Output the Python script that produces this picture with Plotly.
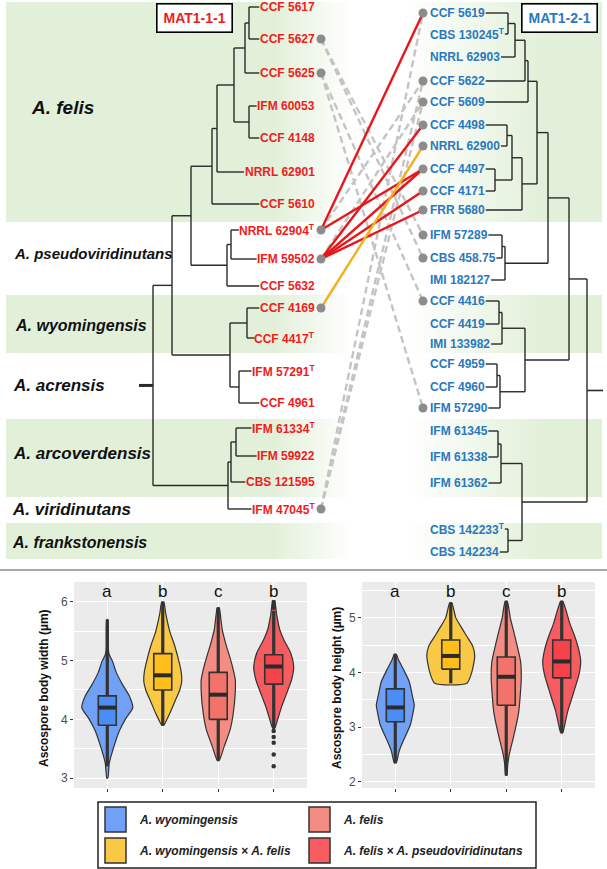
import re
import plotly.graph_objects as go

FIG_W, FIG_H = 607, 869

# ---------------- data: phylogenies ----------------
left_labels = ["CCF 5617", "CCF 5627", "CCF 5625", "IFM 60053", "CCF 4148", "NRRL 62901", "CCF 5610",
               "NRRL 62904<sup>T</sup>", "IFM 59502", "CCF 5632", "CCF 4169", "CCF 4417<sup>T</sup>",
               "IFM 57291<sup>T</sup>", "CCF 4961", "IFM 61334<sup>T</sup>", "IFM 59922", "CBS 121595",
               "IFM 47045<sup>T</sup>"]
left_rows = [7, 39, 73, 106, 138, 172, 204, 230, 259, 286, 308, 338, 371, 403, 428, 456, 482, 509]

right_labels = ["CCF 5619", "CBS 130245<sup>T</sup>", "NRRL 62903", "CCF 5622", "CCF 5609", "CCF 4498",
                "NRRL 62900", "CCF 4497", "CCF 4171", "FRR 5680", "IFM 57289", "CBS 458.75", "IMI 182127",
                "CCF 4416", "CCF 4419", "IMI 133982", "CCF 4959", "CCF 4960", "IFM 57290", "IFM 61345",
                "IFM 61338", "IFM 61362", "CBS 142233<sup>T</sup>", "CBS 142234"]
right_rows = [13, 34, 57, 81, 102, 125, 146, 169, 191, 210, 235, 258, 280, 301, 324, 344, 364, 387, 408,
              431, 457, 483, 529, 552]

# nested (node depth, children); ints are tip indices
left_tree = (153, [(172, [(191, [(212, [(217, [(234, [(245, [(249, [0, 1]), 2]), (249, [3, 4])]), 5]), 6]),
                                 (227, [(231, [7, 8]), 9])]),
                          (230, [(247, [10, 11]), (239, [12, 13])])]),
                   (228, [(231, [(236, [14, 15]), 16]), 17])])
left_root_stub = 139

right_tree = (587, [(569, [(548, [(537, [(528, [(525, [(515, [(508, [0, 1]), 2]), 3]), 4]),
                                         (522, [(512, [(507, [5, 6]), (495, [7, 8])]), 9])]),
                                  (505, [(502, [10, 11]), 12])]),
                           (525, [(502, [(499, [13, 14]), 15]), (500, [(497, [16, 17]), 18])])]),
                    (522, [(501, [(498, [19, 20]), 21]), (508, [22, 23])])])
right_root_stub = 603

clade_names = ["A. felis", "A. pseudoviridinutans", "A. wyomingensis", "A. acrensis",
               "A. arcoverdensis", "A. viridinutans", "A. frankstonensis"]
clade_rows = [107, 253, 325, 385, 453, 509, 542]
clade_shaded = [True, False, True, False, True, False, True]
band_top = [2, 222, 295, 353, 419, 497, 523]
band_bottom = [222, 295, 353, 419, 497, 523, 559]

# crosses (left tip index, right tip index)
crosses_gray = [(1, 10), (1, 11), (2, 13), (2, 18), (7, 3), (8, 4), (17, 0), (17, 3), (17, 4)]
crosses_red = [(7, 0), (7, 7), (8, 5), (8, 7), (8, 8), (8, 9)]
crosses_yellow = [(10, 6)]

# ---------------- data: violins ----------------
groups = ["A. wyomingensis", "A. wyomingensis × A. felis", "A. felis", "A. felis × A. pseudoviridinutans"]
width_letters = ["a", "b", "c", "b"]
height_letters = ["a", "b", "c", "b"]

width_levels = [
    [3.0, 3.25, 3.5, 3.8, 4.0, 4.2, 4.4, 4.6, 4.8, 5.0, 5.1, 5.2, 5.7],
    [3.9, 4.1, 4.3, 4.5, 4.65, 4.8, 5.0, 5.25, 5.5, 5.8, 6.0],
    [3.3, 3.54, 3.83, 4.1, 4.45, 4.68, 4.98, 5.26, 5.53, 5.8, 5.9],
    [3.85, 4.0, 4.22, 4.4, 4.68, 4.9, 5.13, 5.36, 5.53, 5.78, 6.0],
]
width_density = [
    [0.5, 2, 6, 12, 18, 25.5, 22, 15, 9, 5, 2, 1, 0.5],
    [1, 7, 12, 17, 19, 18.5, 16, 12, 7, 3, 1],
    [1, 6, 12, 15, 17, 17, 13, 8, 4, 2, 1],
    [1, 4, 8, 12, 18, 20, 17, 10, 6, 3, 1],
]
width_q1 = [3.9, 4.5, 4.0, 4.6]
width_med = [4.2, 4.75, 4.42, 4.9]
width_q3 = [4.4, 5.12, 4.8, 5.1]
width_lo = [3.2, 3.9, 3.3, 3.85]
width_hi = [5.7, 6.0, 5.9, 5.85]
width_out_group = [3, 3, 3, 3, 3, 3, 3, 3]
width_out_vals = [3.2, 3.4, 3.6, 3.7, 3.8, 5.9, 5.95, 6.0]

height_levels = [
    [2.35, 2.57, 2.75, 3.04, 3.29, 3.4, 3.58, 3.83, 4.06, 4.24, 4.33],
    [3.8, 4.0, 4.3, 4.48, 4.66, 4.84, 5.0, 5.27],
    [2.12, 2.32, 2.5, 2.8, 3.04, 3.28, 3.58, 3.88, 4.18, 4.48, 4.78, 5.0, 5.3],
    [2.9, 3.04, 3.29, 3.52, 3.7, 3.94, 4.19, 4.42, 4.66, 4.9, 5.09, 5.3],
]
height_density = [
    [1, 4, 8, 15, 18, 19, 17, 14, 8, 3, 1],
    [16, 21, 24, 22, 16, 10, 5, 1],
    [0.5, 1.5, 3, 7, 10, 12.5, 14, 15, 14.5, 11, 7, 4, 1],
    [1, 3, 6, 10, 13, 17, 19, 17, 13, 8, 5, 1],
]
height_q1 = [3.1, 4.06, 3.4, 3.9]
height_med = [3.36, 4.3, 3.92, 4.2]
height_q3 = [3.7, 4.59, 4.28, 4.59]
height_lo = [2.35, 3.8, 2.12, 2.9]
height_hi = [4.33, 5.27, 5.3, 5.3]

# ---------------- styles ----------------
FONT = "Arial, Liberation Sans, sans-serif"
RED_TXT = "#F01C1C"
BLUE_TXT = "#2A78BE"
GREEN = "#E2F0D9"
TREE_C = "#2A2A2A"
violin_fill = ["#70A1F7", "#F9C845", "#F38C82", "#F75C61"]
box_fill = ["#4C8CF5", "#FFBF1A", "#F2736A", "#F4434B"]
OUT_C = "#333333"

CH = {' ': 0.278, '.': 0.278, '-': 0.333, 'C': 0.722, 'F': 0.611, 'I': 0.278, 'M': 0.833,
      'N': 0.722, 'R': 0.722, 'L': 0.611, 'B': 0.722, 'S': 0.667, 'T': 0.611}


def text_w(s, size=12):
    sup = ''.join(re.findall(r'<sup>(.*?)</sup>', s))
    base = re.sub(r'<sup>.*?</sup>', '', s)
    return sum(CH.get(c, 0.556) for c in base) * size + sum(CH.get(c, 0.556) for c in sup) * size * 0.7


def build(node, rows, tipx, xs, ys):
    if isinstance(node, int):
        return rows[node], tipx[node]
    depth, kids = node
    pos = [build(k, rows, tipx, xs, ys) for k in kids]
    for ky, kx in pos:
        xs += [depth, kx, None]
        ys += [ky, ky, None]
    yk = [p[0] for p in pos]
    xs += [depth, depth, None]
    ys += [min(yk), max(yk), None]
    return (min(yk) + max(yk)) / 2, depth


fig = go.Figure()

# clade bands with horizontal fade in the middle
for top, bot, shaded in zip(band_top, band_bottom, clade_shaded):
    if not shaded:
        continue
    fig.add_trace(go.Scatter(
        x=[6, 602, 602, 6, 6], y=[top, top, bot, bot, top], mode="lines",
        line=dict(width=0, color="rgba(0,0,0,0)"), fill="toself",
        fillgradient=dict(type="horizontal",
                          colorscale=[[0, GREEN], [0.45, GREEN], [0.58, "#FFFFFF"], [0.67, "#FFFFFF"],
                                      [0.9, GREEN], [1, GREEN]]),
        hoverinfo="skip", xaxis="x", yaxis="y"))

# trees
L_RIGHT = 317
R_LEFT = 428
left_tipx = [L_RIGHT - text_w(s) - 3 for s in left_labels]
right_tipx = [R_LEFT + text_w(s) + 3 for s in right_labels]

xs, ys = [], []
ly, lx = build(left_tree, left_rows, left_tipx, xs, ys)
ry, rx = build(right_tree, right_rows, right_tipx, xs, ys)
fig.add_trace(go.Scatter(x=xs, y=ys, mode="lines", line=dict(color=TREE_C, width=1.4),
                         hoverinfo="skip", xaxis="x", yaxis="y"))
fig.add_trace(go.Scatter(x=[left_root_stub, lx], y=[ly, ly], mode="lines",
                         line=dict(color=TREE_C, width=3), hoverinfo="skip"))
fig.add_trace(go.Scatter(x=[rx, right_root_stub], y=[ry, ry], mode="lines",
                         line=dict(color=TREE_C, width=1.6), hoverinfo="skip"))

# crossing lines
LDOT, RDOT = 321, 423


def cross_trace(pairs, color, dash):
    cx, cy = [], []
    for i, j in pairs:
        cx += [LDOT, RDOT, None]
        cy += [left_rows[i], right_rows[j], None]
    return go.Scatter(x=cx, y=cy, mode="lines", line=dict(color=color, width=2.4, dash=dash),
                      hoverinfo="skip")


fig.add_trace(cross_trace(crosses_gray, "#C4C4C4", "7px,4px"))
fig.add_trace(cross_trace(crosses_red, "#E8161B", "solid"))
fig.add_trace(cross_trace(crosses_yellow, "#F2B21B", "solid"))

all_pairs = crosses_gray + crosses_red + crosses_yellow
ldots = sorted(set(p[0] for p in all_pairs))
rdots = sorted(set(p[1] for p in all_pairs))
fig.add_trace(go.Scatter(x=[LDOT] * len(ldots) + [RDOT] * len(rdots),
                         y=[left_rows[i] for i in ldots] + [right_rows[j] for j in rdots],
                         mode="markers", marker=dict(color="#8C8C8C", size=9), hoverinfo="skip"))

annotations = []
for s, r in zip(left_labels, left_rows):
    annotations.append(dict(x=L_RIGHT, y=r, xref="x", yref="y", text="<b>%s</b>" % s, showarrow=False,
                            xanchor="right", yanchor="middle", font=dict(family=FONT, size=12, color=RED_TXT)))
for s, r in zip(right_labels, right_rows):
    annotations.append(dict(x=R_LEFT, y=r, xref="x", yref="y", text="<b>%s</b>" % s, showarrow=False,
                            xanchor="left", yanchor="middle", font=dict(family=FONT, size=12, color=BLUE_TXT)))

clade_x = [29, 12, 13, 11, 11, 10, 10]
clade_size = [19, 15, 16, 17, 17, 17, 16]
for name, r, cxp, fs in zip(clade_names, clade_rows, clade_x, clade_size):
    annotations.append(dict(x=cxp, y=r, xref="x", yref="y", text="<b><i>%s</i></b>" % name, showarrow=False,
                            xanchor="left", yanchor="middle", font=dict(family=FONT, size=fs, color="#111111")))

for txt, xc, col in [("MAT1-1-1", 194, RED_TXT), ("MAT1-2-1", 559, BLUE_TXT)]:
    annotations.append(dict(x=xc, y=17.5, xref="x", yref="y", text="<b>%s</b>" % txt, showarrow=False,
                            xanchor="center", yanchor="middle", width=72, height=25,
                            bordercolor="#000000", borderwidth=1.6, bgcolor="#FFFFFF",
                            font=dict(family=FONT, size=14, color=col)))

shapes = [dict(type="line", xref="x", yref="y", x0=0, x1=607, y0=570, y1=570,
               line=dict(color="#8E8E8E", width=1.5))]

# ---------------- violins ----------------
PX_PER_CAT = 55.5
BOX_HW = 0.162


def add_violins(levels, dens, q1, med, q3, lo, hi, xa, ya):
    for g in range(4):
        c = g + 1
        hw = [d / PX_PER_CAT for d in dens[g]]
        vx = [c + w for w in hw] + [c - w for w in reversed(hw)] + [c + hw[0]]
        vy = list(levels[g]) + list(reversed(levels[g])) + [levels[g][0]]
        fig.add_trace(go.Scatter(x=vx, y=vy, mode="lines", fill="toself", fillcolor=violin_fill[g],
                                 line=dict(color="#333333", width=1.2, shape="spline", smoothing=0.6),
                                 hoverinfo="skip", xaxis=xa, yaxis=ya))
        fig.add_trace(go.Scatter(x=[c, c], y=[lo[g], hi[g]], mode="lines",
                                 line=dict(color="#333333", width=3.2), hoverinfo="skip", xaxis=xa, yaxis=ya))
        fig.add_trace(go.Scatter(x=[c - BOX_HW, c + BOX_HW, c + BOX_HW, c - BOX_HW, c - BOX_HW],
                                 y=[q1[g], q1[g], q3[g], q3[g], q1[g]], mode="lines", fill="toself",
                                 fillcolor=box_fill[g], line=dict(color="#333333", width=1.6),
                                 hoverinfo="skip", xaxis=xa, yaxis=ya))
        fig.add_trace(go.Scatter(x=[c - BOX_HW, c + BOX_HW], y=[med[g], med[g]], mode="lines",
                                 line=dict(color="#2B2B2B", width=4), hoverinfo="skip", xaxis=xa, yaxis=ya))


add_violins(width_levels, width_density, width_q1, width_med, width_q3, width_lo, width_hi, "x2", "y2")
fig.add_trace(go.Scatter(x=[g + 1 for g in width_out_group], y=width_out_vals, mode="markers",
                         marker=dict(color=OUT_C, size=4.5), hoverinfo="skip", xaxis="x2", yaxis="y2"))
add_violins(height_levels, height_density, height_q1, height_med, height_q3, height_lo, height_hi, "x3", "y3")


def pxp(x):
    return x / FIG_W


def pyp(y):
    return 1 - y / FIG_H


for ax in ["x2", "x3"]:
    ya = "y2" if ax == "x2" else "y3"
    shapes.append(dict(type="rect", xref=ax + " domain", yref=ya + " domain", x0=0, x1=1, y0=0, y1=1,
                       fillcolor="#EBEBEB", line=dict(width=0), layer="below"))

for g in range(4):
    annotations.append(dict(x=g + 1, y=pyp(591), xref="x2", yref="paper", text=width_letters[g], showarrow=False,
                            xanchor="center", yanchor="middle", font=dict(family=FONT, size=17, color="#111111")))
    annotations.append(dict(x=g + 1, y=pyp(591), xref="x3", yref="paper", text=height_letters[g], showarrow=False,
                            xanchor="center", yanchor="middle", font=dict(family=FONT, size=17, color="#111111")))

annotations.append(dict(x=pxp(44), y=pyp(688), xref="paper", yref="paper", text="<b>Ascospore body width (µm)</b>",
                        textangle=-90, showarrow=False, xanchor="center", yanchor="middle",
                        font=dict(family=FONT, size=12, color="#111111")))
annotations.append(dict(x=pxp(337), y=pyp(688), xref="paper", yref="paper",
                        text="<b>Ascospore body height (µm)</b>", xanchor="center", yanchor="middle",
                        textangle=-90, showarrow=False, font=dict(family=FONT, size=12, color="#111111")))

# ---------------- legend (custom 2x2) ----------------
shapes.append(dict(type="rect", xref="paper", yref="paper", x0=pxp(98), x1=pxp(536), y0=pyp(868), y1=pyp(802),
                   line=dict(color="#222222", width=1.5), fillcolor="white"))
leg_pos = [(105, 807), (105, 838), (309, 807), (309, 838)]
for g, (lxp, lyp) in enumerate(leg_pos):
    shapes.append(dict(type="rect", xref="paper", yref="paper", x0=pxp(lxp), x1=pxp(lxp + 21),
                       y0=pyp(lyp + 25), y1=pyp(lyp), fillcolor=violin_fill[g],
                       line=dict(color="#333333", width=1.5)))
    label = groups[g].replace("×", "</i>×<i>")
    annotations.append(dict(x=pxp(lxp + 32), y=pyp(lyp + 12.5), xref="paper", yref="paper",
                            text="<b><i>%s</i></b>" % label, showarrow=False, xanchor="left", yanchor="middle",
                            font=dict(family=FONT, size=12, color="#222222")))

axis_common = dict(showticklabels=True, ticks="outside", ticklen=3, tickcolor="#333333", showgrid=True,
                   gridcolor="white", gridwidth=1.2, zeroline=False, showline=False, fixedrange=True,
                   tickfont=dict(family=FONT, size=12, color="#4D4D4D"))

fig.update_layout(
    width=FIG_W, height=FIG_H, margin=dict(l=0, r=0, t=0, b=0),
    paper_bgcolor="white", plot_bgcolor="rgba(0,0,0,0)", showlegend=False,
    xaxis=dict(domain=[0, 1], range=[0, FIG_W], visible=False, fixedrange=True),
    yaxis=dict(domain=[0, 1], range=[FIG_H, 0], visible=False, fixedrange=True),
    xaxis2=dict(domain=[pxp(74), pxp(307)], anchor="y2", range=[0.4, 4.6], tickvals=[1, 2, 3, 4],
                **{**axis_common, "showticklabels": False}),
    yaxis2=dict(domain=[pyp(788), pyp(582)], anchor="x2", range=[2.83, 6.34], tickvals=[3, 4, 5, 6],
                minor=dict(dtick=0.5, tick0=0, showgrid=True, gridcolor="white", gridwidth=0.5), **axis_common),
    xaxis3=dict(domain=[pxp(362), pxp(595)], anchor="y3", range=[0.4, 4.6], tickvals=[1, 2, 3, 4],
                **{**axis_common, "showticklabels": False}),
    yaxis3=dict(domain=[pyp(788), pyp(582)], anchor="x3", range=[1.89, 5.65], tickvals=[2, 3, 4, 5],
                minor=dict(dtick=0.5, tick0=0, showgrid=True, gridcolor="white", gridwidth=0.5), **axis_common),
    shapes=shapes, annotations=annotations,
)

fig.write_html("out.html", config={"displayModeBar": False},
               post_script="document.body.style.margin='0px';document.body.style.overflow='hidden';")
